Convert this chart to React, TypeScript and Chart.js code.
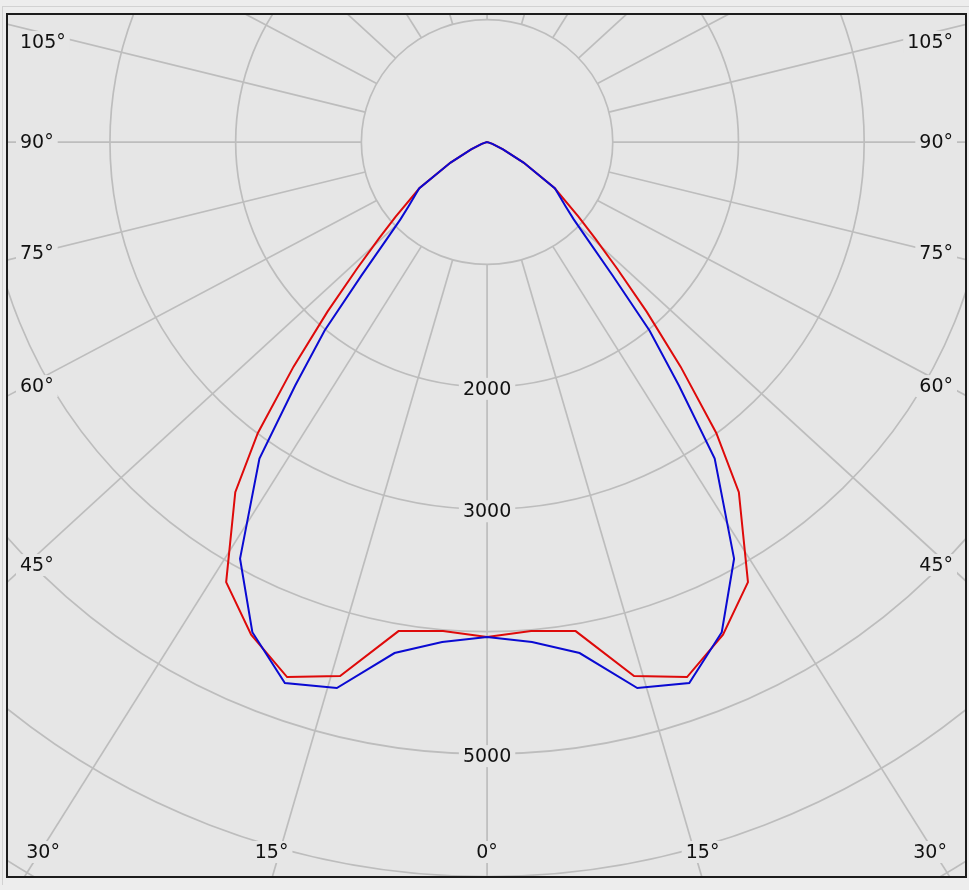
import React, { useEffect, useRef } from "react";
import { Chart, registerables } from "chart.js";

Chart.register(...registerables);

// Polar angles (degrees from nadir) and luminous intensities (cd)
const ANGLES = [0, 5, 10, 15, 20, 25, 30, 35, 37.5, 40, 42.5, 45, 47.5, 50, 55, 60, 65, 70, 75, 80, 85, 90];
const RED_CD = [4044, 4010, 4057, 4517, 4651, 4441, 4151, 3492, 2995, 2395, 1879, 1464, 1168, 949, 655, 335, 140, 45, 10, 0, 0, 0];
const BLUE_CD = [4044, 4100, 4239, 4618, 4703, 4418, 3930, 3157, 2507, 2010, 1478, 1142, 935, 815, 660, 335, 140, 45, 10, 0, 0, 0];

// Grid
const RINGS = [1000, 2000, 3000, 4000, 5000, 6000, 7000, 8000];
const RING_LABELS = [2000, 3000, 5000];
const SPOKES = Array.from({ length: 24 }, (_, i) => i * 15);
const SIDE_LABELS = ["105°", "90°", "75°", "60°", "45°"];
const BOTTOM_LABELS = ["30°", "15°", "0°", "15°", "30°"];

const BG = "#e6e6e6";
const GRID = "#bdbdbd";
const RED = "rgb(222,10,10)";
const BLUE = "rgb(10,10,210)";
const FONT = '19px "DejaVu Sans"';

function curve(values: number[]) {
  const pts: { x: number; y: number }[] = [];
  for (let i = ANGLES.length - 1; i >= 0; i--) {
    const t = (ANGLES[i] * Math.PI) / 180;
    pts.push({ x: -values[i] * Math.sin(t), y: -values[i] * Math.cos(t) });
  }
  for (let i = 1; i < ANGLES.length; i++) {
    const t = (ANGLES[i] * Math.PI) / 180;
    pts.push({ x: values[i] * Math.sin(t), y: -values[i] * Math.cos(t) });
  }
  return pts;
}

function label(ctx: CanvasRenderingContext2D, text: string, x: number, y: number, align: CanvasTextAlign) {
  ctx.font = FONT;
  const w = ctx.measureText(text).width;
  let left = x;
  if (align === "center") left = x - w / 2;
  if (align === "right") left = x - w;
  ctx.fillStyle = BG;
  ctx.fillRect(left - 4, y - 11, w + 8, 22);
  ctx.fillStyle = "#111";
  ctx.textAlign = "left";
  ctx.textBaseline = "middle";
  ctx.fillText(text, left, y + 1);
}

const polarGrid = {
  id: "polarGrid",
  beforeDatasetsDraw(chart: any) {
    const { ctx, chartArea: a, scales } = chart;
    const xs = scales.x;
    const ys = scales.y;
    const cx = xs.getPixelForValue(0);
    const cy = ys.getPixelForValue(0);
    const kx = (xs.getPixelForValue(1000) - cx) / 1000;
    const ky = (cy - ys.getPixelForValue(1000)) / 1000;
    const stretch = 1.062;
    ctx.save();
    ctx.beginPath();
    ctx.rect(a.left, a.top, a.right - a.left, a.bottom - a.top);
    ctx.clip();
    ctx.strokeStyle = GRID;
    ctx.lineWidth = 1.7;
    for (const r of RINGS) {
      ctx.beginPath();
      ctx.ellipse(cx, cy, r * kx, r * ky, 0, 0, Math.PI * 2);
      ctx.stroke();
    }
    const r0 = RINGS[0];
    for (const deg of SPOKES) {
      const t = (deg * Math.PI) / 180;
      const dx = -Math.sin(t) * kx * stretch;
      const dy = Math.cos(t) * ky;
      const t0 = 1 / Math.sqrt((dx / (r0 * kx)) ** 2 + (dy / (r0 * ky)) ** 2);
      const t1 = 20000;
      ctx.beginPath();
      ctx.moveTo(cx + t0 * dx, cy + t0 * dy);
      ctx.lineTo(cx + t1 * dx, cy + t1 * dy);
      ctx.stroke();
    }
    for (const v of RING_LABELS) {
      label(ctx, String(v), cx, cy + v * ky + 2, "center");
    }
    const sideOffsets = [-100, 0, 111, 244, 423];
    SIDE_LABELS.forEach((s, i) => {
      label(ctx, s, a.left + 12, cy + sideOffsets[i], "left");
      label(ctx, s, a.right - 12, cy + sideOffsets[i], "right");
    });
    const bottomOffsets = [-444, -215.5, 0, 215.5, 443];
    BOTTOM_LABELS.forEach((s, i) => {
      label(ctx, s, cx + bottomOffsets[i], a.bottom - 24, "center");
    });
    ctx.restore();
  },
};

export default function App() {
  const ref = useRef<HTMLCanvasElement | null>(null);
  useEffect(() => {
    document.body.style.margin = "0";
    if (!ref.current) return;
    const chart = new Chart(ref.current, {
      type: "scatter",
      data: {
        datasets: [
          {
            data: curve(BLUE_CD),
            showLine: true,
            borderColor: BLUE,
            borderWidth: 2,
            pointRadius: 0,
            tension: 0,
          },
          {
            data: curve(RED_CD),
            showLine: true,
            borderColor: RED,
            borderWidth: 2,
            pointRadius: 0,
            tension: 0,
          },
        ],
      },
      options: {
        animation: false,
        responsive: false,
        layout: { padding: 0 },
        plugins: { legend: { display: false }, tooltip: { enabled: false } },
        scales: {
          x: { type: "linear", min: -3811, max: 3802, display: false },
          y: { type: "linear", min: -5996, max: 1038, display: false },
        },
      },
      plugins: [polarGrid],
    });
    return () => chart.destroy();
  }, []);

  return (
    <div style={{ position: "relative", width: 969, height: 890, background: "#ededed", overflow: "hidden" }}>
      <div
        style={{
          position: "absolute",
          left: 2,
          top: 6,
          width: 980,
          height: 878,
          borderTop: "1px solid #d2d2d2",
          borderLeft: "1px solid #d2d2d2",
        }}
      />
      <div
        style={{
          position: "absolute",
          left: 6,
          top: 13,
          width: 957,
          height: 861,
          border: "2px solid #1c1c1c",
          background: BG,
        }}
      >
        <canvas ref={ref} width={957} height={861} style={{ display: "block", width: 957, height: 861 }} />
      </div>
    </div>
  );
}
